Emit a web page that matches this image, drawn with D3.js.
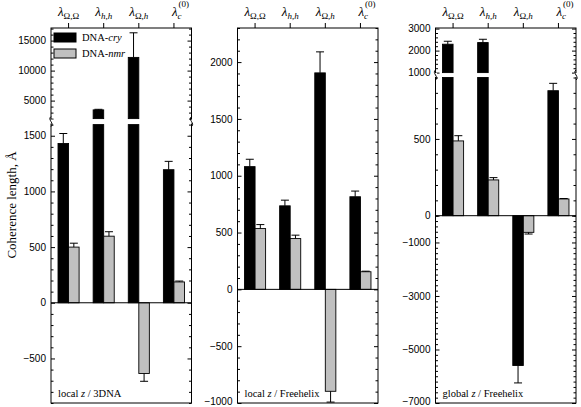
<!DOCTYPE html>
<html><head><meta charset="utf-8">
<script src="https://cdn.jsdelivr.net/npm/d3@7"></script>
<style>body{margin:0;background:#fff}</style></head>
<body><svg id="c" width="581" height="407"></svg>
<script>
// ---- data ----
const categories = ["OO", "hh", "Oh", "c"];
const seriesNames = ["DNA-cry", "DNA-nmr"];
const panelNames = ["3DNA", "Freehelix", "Freehelix"];
const panelFrames = ["local", "local", "global"];

const cry1 = [1430, 3450, 12200, 1195];
const cry1Err = [90, 100, 4100, 75];
const nmr1 = [500, 598, -635, 187];
const nmr1Err = [35, 40, 70, 8];

const cry2 = [1080, 735, 1905, 815];
const cry2Err = [65, 50, 185, 50];
const nmr2 = [535, 447, -897, 155];
const nmr2Err = [35, 30, 95, 5];

const cry3 = [2290, 2365, -5600, 814];
const cry3Err = [135, 150, 650, 48];
const nmr3 = [487, 233, -622, 109];
const nmr3Err = [34, 15, 63, 3];

const ticks1Lower = [-500, 0, 500, 1000, 1500];
const ticks1Upper = [5000, 10000, 15000];
const ticks2 = [-1000, -500, 0, 500, 1000, 1500, 2000];
const ticks3Lower = [-7000, -5000, -3000, -1000];
const ticks3Mid = [0, 500];
const ticks3Upper = [1000, 2000, 3000];

// ---- layout ----
const svg = d3.select("#c");
const W = 140.5, TOP = 28, BOT = 403;
const fmt = d3.format("d");
const panels = [
  {x0: 51, cry: cry1, cryErr: cry1Err, nmr: nmr1, nmrErr: nmr1Err,
   segs: [{d: [-900, 1600], r: [403, 124.6], major: ticks1Lower, step: 100},
          {d: [2000, 17100], r: [118.6, 28], major: ticks1Upper, step: 1000}],
   breaks: [121.6]},
  {x0: 237.5, cry: cry2, cryErr: cry2Err, nmr: nmr2, nmrErr: nmr2Err,
   segs: [{d: [-1000, 2300], r: [403, 28], major: ticks2, step: 100}],
   breaks: []},
  {x0: 435.5, cry: cry3, cryErr: cry3Err, nmr: nmr3, nmrErr: nmr3Err,
   segs: [{d: [-7000, 0], r: [403, 215.7], major: ticks3Lower, step: 200},
          {d: [0, 900], r: [215.7, 77.5], major: ticks3Mid, step: 100},
          {d: [1000, 3000], r: [72.6, 28.6], major: ticks3Upper, step: 200}],
   breaks: [75]}
];

const serif = "Liberation Serif, Times New Roman, serif";
const sans = "Liberation Sans, Arial, sans-serif";

panels.forEach((p, pi) => {
  const g = svg.append("g");
  const x1 = p.x0 + W;
  const xb = d3.scaleBand().domain(categories).range([p.x0, x1]).paddingInner(0.4).paddingOuter(0.2);
  p.segs.forEach(s => s.sc = d3.scaleLinear().domain(s.d).range(s.r));
  const yOf = v => {
    for (const s of p.segs) if (v >= s.d[0] && v <= s.d[1]) return s.sc(v);
    return null;
  };

  // frame
  g.append("rect").attr("x", p.x0).attr("y", TOP).attr("width", W).attr("height", BOT - TOP)
    .attr("fill", "none").attr("stroke", "#000").attr("stroke-width", 1);

  // bars (drawn piecewise over each axis segment)
  const bw = xb.bandwidth() / 2;
  const drawBar = (cat, v, err, off, fill) => {
    const lo = Math.min(0, v), hi = Math.max(0, v);
    p.segs.forEach(s => {
      const a = Math.max(lo, s.d[0]), b = Math.min(hi, s.d[1]);
      if (b > a) {
        g.append("rect").attr("x", xb(cat) + off).attr("width", bw)
          .attr("y", s.sc(b)).attr("height", s.sc(a) - s.sc(b))
          .attr("fill", fill).attr("stroke", "#000").attr("stroke-width", 0.9);
      }
    });
    const cx = xb(cat) + off + bw / 2;
    const e = v >= 0 ? v + err : v - err;
    const y0 = yOf(v), y1 = yOf(e);
    g.append("line").attr("x1", cx).attr("x2", cx).attr("y1", y0).attr("y2", y1).attr("stroke", "#000");
    g.append("line").attr("x1", cx - 4).attr("x2", cx + 4).attr("y1", y1).attr("y2", y1).attr("stroke", "#000");
  };
  categories.forEach((c, i) => {
    drawBar(c, p.cry[i], p.cryErr[i], 0, "#000");
    drawBar(c, p.nmr[i], p.nmrErr[i], bw, "#c0c0c0");
  });

  // zero line
  const y0 = yOf(0);
  g.append("line").attr("x1", p.x0).attr("x2", x1).attr("y1", y0).attr("y2", y0).attr("stroke", "#000");

  // y axes
  p.segs.forEach(s => {
    const minor = d3.range(Math.ceil(s.d[0] / s.step) * s.step, s.d[1] + 1, s.step)
      .filter(v => !s.major.includes(v));
    const L = g.append("g").attr("transform", `translate(${p.x0},0)`)
      .call(d3.axisLeft(s.sc).tickValues(s.major).tickSize(-4).tickPadding(5).tickFormat(fmt));
    L.append("g").call(d3.axisLeft(s.sc).tickValues(minor).tickSize(-2.5).tickFormat(""));
    const R = g.append("g").attr("transform", `translate(${x1},0)`)
      .call(d3.axisRight(s.sc).tickValues(s.major).tickSize(-4).tickFormat(""));
    R.append("g").call(d3.axisRight(s.sc).tickValues(minor).tickSize(-2.5).tickFormat(""));
    [L, R].forEach(a => {
      a.selectAll(".domain").remove();
      a.selectAll("text").attr("font-family", sans).attr("font-size", 10).attr("fill", "#000")
        .attr("dy", d => s.sc(d) > 400 ? "0.1em" : "0.32em");
      a.selectAll("line").attr("stroke", "#000");
    });
  });

  // axis breaks
  p.breaks.forEach(by => {
    [p.x0, x1].forEach(bx => {
      g.append("rect").attr("x", bx - 1.5).attr("y", by - 2).attr("width", 3).attr("height", 4).attr("fill", "#fff");
      g.append("path")
        .attr("d", `M${bx},${by - 5} C${bx - 4},${by - 2} ${bx + 4},${by + 2} ${bx},${by + 5}`)
        .attr("fill", "none").attr("stroke", "#000").attr("stroke-width", 1);
    });
  });

  // top axis
  const T = g.append("g").attr("transform", `translate(0,${TOP})`)
    .call(d3.axisTop(xb).tickSize(5).tickFormat(""));
  T.select(".domain").remove();
  T.selectAll("line").attr("stroke", "#000");
  categories.forEach(c => {
    const cx = xb(c) + xb.bandwidth() / 2;
    const t = g.append("text").attr("y", 15.5).attr("font-family", serif).attr("font-size", 13).attr("fill", "#000");
    t.append("tspan").attr("font-style", "italic").text("λ");
    if (c === "c") {
      t.attr("x", cx - 2).attr("text-anchor", "start");
      t.append("tspan").attr("font-style", "italic").attr("font-size", 9).attr("dy", 3).text("c");
      t.append("tspan").attr("font-size", 9).attr("dx", -3).attr("dy", -12).text("(0)");
    } else {
      t.attr("x", cx).attr("text-anchor", "middle");
      const a = c[0], b = c[1];
      const part = (ch, first) => {
        const s = t.append("tspan").attr("font-size", 9);
        if (first) s.attr("dy", 3);
        if (ch === "O") s.text("Ω"); else s.attr("font-style", "italic").text("h");
      };
      part(a, true);
      t.append("tspan").attr("font-size", 9).text(",");
      part(b, false);
    }
  });

  // panel label
  const pl = g.append("text").attr("x", p.x0 + 7).attr("y", 397).attr("font-family", serif).attr("font-size", 10.5).attr("fill", "#000");
  pl.append("tspan").text(panelFrames[pi] + " ");
  pl.append("tspan").attr("font-style", "italic").text("z");
  pl.append("tspan").text(" / " + panelNames[pi]);

  // legend
  if (pi === 0) {
    const fills = ["#000", "#c0c0c0"];
    seriesNames.forEach((n, i) => {
      const ly = 33 + i * 16;
      g.append("rect").attr("x", 54).attr("y", ly).attr("width", 22).attr("height", 9)
        .attr("fill", fills[i]).attr("stroke", "#000");
      const lt = g.append("text").attr("x", 82).attr("y", ly + 8.3).attr("font-family", serif)
        .attr("font-size", 10.5).attr("fill", "#000");
      const [pre, suf] = n.split("-");
      lt.append("tspan").text(pre + "-");
      lt.append("tspan").attr("font-style", "italic").text(suf);
    });
  }
});

// y-axis title
svg.append("text").attr("transform", "translate(16,205) rotate(-90)").attr("text-anchor", "middle")
  .attr("font-family", serif).attr("font-size", 13).attr("fill", "#000").text("Coherence length, Å");
</script>
</body></html>
